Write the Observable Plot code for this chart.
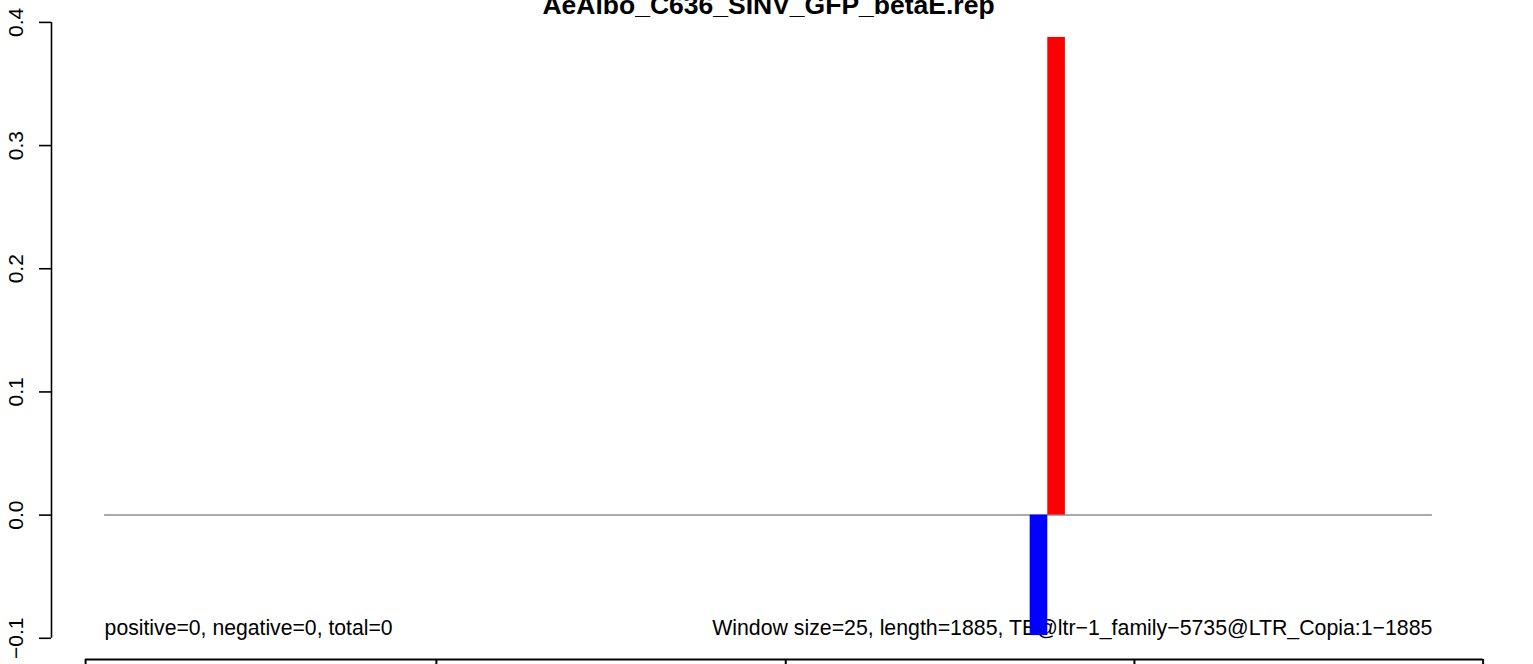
<!DOCTYPE html>
<html>
<head>
<meta charset="utf-8">
<script src="https://cdn.jsdelivr.net/npm/d3@7"></script>
<script src="https://cdn.jsdelivr.net/npm/@observablehq/plot@0.6"></script>
<style>
  html, body { margin: 0; padding: 0; background: #fff; }
  #chart svg { display: block; }
</style>
</head>
<body>
<div id="chart"></div>
<script>
// ---- data ----
const titleText = "AeAlbo_C636_SINV_GFP_betaE.rep";
const seqLength = 1885;
const windowSize = 25;
const windowStart = [1314, 1339];
const windowValue = [-0.0978, 0.3878];
const windowStrand = ["negative", "positive"];
const strandColor = {negative: "#0000ff", positive: "#ff0000"};
const yTicks = [-0.1, 0.0, 0.1, 0.2, 0.3, 0.4];
const leftNote = "positive=0, negative=0, total=0";
const rightNote = "Window size=25, length=1885, TE@ltr\u22121_family\u22125735@LTR_Copia:1\u22121885";
// edges of the (cropped) annotation panel below, in sequence coordinates
const lowerPanelEdges = [-27, 471, 967, 1462, 1957];

const bars = windowStart.map((s, i) => ({x1: s, x2: s + windowSize, v: windowValue[i], strand: windowStrand[i]}));

// R-style 4% axis expansion
const xPad = seqLength * 0.04;
const yMin = d3.min(windowValue), yMax = d3.max(windowValue);
const yPad = (yMax - yMin) * 0.04;
const xDomain = [-xPad, seqLength + xPad];
const yDomain = [yMin - yPad, yMax + yPad];

const font = "Liberation Sans, Arial, Helvetica, sans-serif";

const chart = Plot.plot({
  width: 1533,
  height: 664,
  marginLeft: 51,
  marginRight: 48,
  marginTop: 13,
  marginBottom: 5,
  style: {fontFamily: font, background: "#fff", overflow: "visible"},
  x: {domain: xDomain, axis: null},
  y: {domain: yDomain, axis: null},
  marks: [
    // annotation notes (drawn first, bars paint over them as in the original)
    Plot.text([leftNote], {x: 0, y: yTicks[0], text: d => d, textAnchor: "start", lineAnchor: "bottom",
      dy: -3, fontSize: 21.2, fill: "#000"}),
    Plot.text([rightNote], {x: seqLength, y: yTicks[0], text: d => d, textAnchor: "end", lineAnchor: "bottom",
      dy: -3, fontSize: 21.3, fill: "#000"}),
    // zero baseline
    Plot.ruleY([0], {x1: 0, x2: seqLength, stroke: "#aaaaaa", strokeWidth: 2}),
    // bars
    Plot.rectY(bars, {x1: "x1", x2: "x2", y1: 0, y2: "v", fill: d => strandColor[d.strand]}),
    // y axis line and ticks
    Plot.ruleX([xDomain[0]], {y1: yTicks[0], y2: yTicks[yTicks.length - 1], stroke: "#000", strokeWidth: 1.6}),
    Plot.axisY({ticks: yTicks, tickSize: 12, tickFormat: () => "", label: null, stroke: "#000", strokeWidth: 1.6}),
    Plot.text(yTicks, {y: d => d, frameAnchor: "left", dx: -29, rotate: -90, text: d3.format(".1f"),
      textAnchor: "middle", lineAnchor: "bottom", fontSize: 21, fill: "#000"}),
    // title
    Plot.text([titleText], {frameAnchor: "top", text: d => d, lineAnchor: "bottom", dy: 0,
      fontSize: 26.5, fontWeight: "bold", fill: "#000"}),
    // lower (cropped) panel
    Plot.ruleY([yDomain[0]], {x1: lowerPanelEdges[0], x2: lowerPanelEdges[lowerPanelEdges.length - 1], stroke: "#000", strokeWidth: 2}),
    Plot.ruleX(lowerPanelEdges, {x: d => d, y1: yDomain[0], y2: yDomain[0] - 0.05, stroke: "#000", strokeWidth: 2})
  ]
});
document.getElementById("chart").appendChild(chart);
</script>
</body>
</html>
